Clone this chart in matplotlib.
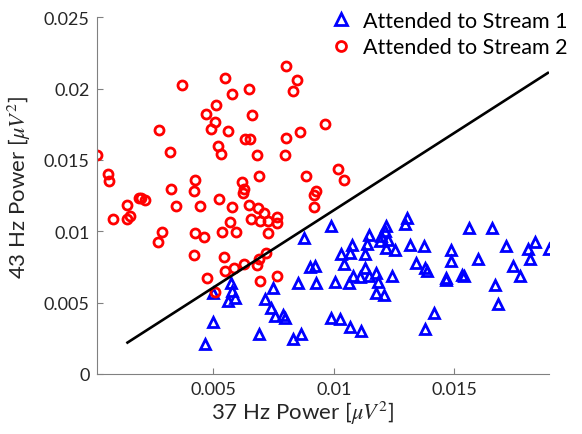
import matplotlib
matplotlib.use("Agg")
import matplotlib.pyplot as plt
from matplotlib.ticker import FuncFormatter

plt.rcParams['font.family'] = ['Lato', 'DejaVu Sans']
plt.rcParams['mathtext.fontset'] = 'stix'

# Attended to Stream 1 (blue triangles)
s1_x = [0.00988, 0.01304, 0.01294, 0.01218, 0.01211, 0.01198, 0.01191, 0.01225, 0.01218, 0.01253,
        0.01146, 0.01139, 0.01128, 0.01077, 0.01066, 0.01029, 0.01041, 0.01315, 0.01373, 0.01340,
        0.01377, 0.01387, 0.01128, 0.01080, 0.01108, 0.01146, 0.01174, 0.01184, 0.01004, 0.01063,
        0.01242, 0.01174, 0.01207, 0.00990, 0.01028, 0.01068, 0.01112, 0.01416, 0.01377, 0.01563,
        0.01657, 0.01485, 0.01485, 0.01598, 0.01715, 0.01833, 0.01805, 0.01892, 0.01815, 0.01743,
        0.01771, 0.01464, 0.01466, 0.01530, 0.01539, 0.01669, 0.01681, 0.00876, 0.00901, 0.00921,
        0.00853, 0.00925, 0.00749, 0.00576, 0.00580, 0.00590, 0.00562, 0.00498, 0.00714, 0.00742,
        0.00756, 0.00788, 0.00797, 0.00498, 0.00691, 0.00831, 0.00866, 0.00466]
s1_y = [0.01040, 0.01092, 0.01054, 0.01034, 0.00999, 0.00964, 0.00929, 0.00940, 0.00883, 0.00871,
        0.00975, 0.00910, 0.00841, 0.00907, 0.00848, 0.00843, 0.00773, 0.00907, 0.00894, 0.00778,
        0.00743, 0.00724, 0.00743, 0.00689, 0.00680, 0.00685, 0.00708, 0.00643, 0.00642, 0.00635,
        0.00685, 0.00569, 0.00551, 0.00394, 0.00382, 0.00331, 0.00301, 0.00429, 0.00313, 0.01022,
        0.01022, 0.00869, 0.00790, 0.00806, 0.00900, 0.00924, 0.00876, 0.00876, 0.00806, 0.00760,
        0.00687, 0.00673, 0.00656, 0.00696, 0.00687, 0.00621, 0.00487, 0.00952, 0.00750, 0.00754,
        0.00638, 0.00638, 0.00604, 0.00638, 0.00580, 0.00534, 0.00509, 0.00569, 0.00522, 0.00464,
        0.00406, 0.00415, 0.00394, 0.00366, 0.00283, 0.00244, 0.00283, 0.00213]

# Attended to Stream 2 (red circles)
s2_x = [0.00017, 0.00065, 0.00067, 0.00083, 0.00141, 0.00141, 0.00154, 0.00193, 0.00203, 0.00218,
        0.00274, 0.00287, 0.00272, 0.00321, 0.00325, 0.00348, 0.00372, 0.00424, 0.00420, 0.00424,
        0.00445, 0.00464, 0.00470, 0.00514, 0.00506, 0.00492, 0.00521, 0.00531, 0.00524, 0.00536,
        0.00548, 0.00562, 0.00579, 0.00577, 0.00569, 0.00593, 0.00648, 0.00660, 0.00634, 0.00653,
        0.00680, 0.00618, 0.00628, 0.00623, 0.00689, 0.00647, 0.00657, 0.00688, 0.00709, 0.00695,
        0.00728, 0.00728, 0.00763, 0.00765, 0.00804, 0.00848, 0.00833, 0.00801, 0.00800, 0.00862,
        0.00887, 0.00925, 0.00920, 0.00917, 0.00963, 0.01019, 0.01041, 0.00420, 0.00544, 0.00721,
        0.00689, 0.00684, 0.00628, 0.00587, 0.00550, 0.00476, 0.00695, 0.00763, 0.00506]
s2_y = [0.01538, 0.01401, 0.01352, 0.01085, 0.01181, 0.01087, 0.01108, 0.01231, 0.01231, 0.01217,
        0.01713, 0.00992, 0.00922, 0.01554, 0.01299, 0.01174, 0.02025, 0.01357, 0.01280, 0.00985,
        0.01174, 0.00961, 0.01824, 0.01882, 0.01769, 0.01715, 0.01599, 0.01541, 0.01224, 0.00992,
        0.02076, 0.01704, 0.01962, 0.01171, 0.01062, 0.00992, 0.01999, 0.01815, 0.01650, 0.01650,
        0.01538, 0.01343, 0.01294, 0.01266, 0.01387, 0.01185, 0.01083, 0.01162, 0.01127, 0.01073,
        0.01073, 0.00985, 0.01099, 0.01055, 0.02161, 0.02060, 0.01980, 0.01652, 0.01538, 0.01699,
        0.01387, 0.01285, 0.01254, 0.01169, 0.01755, 0.01434, 0.01359, 0.00836, 0.00822, 0.00851,
        0.00806, 0.00762, 0.00771, 0.00743, 0.00724, 0.00670, 0.00654, 0.00685, 0.00571]

# separating line
line_x = [0.00145, 0.01888]
line_y = [0.0022, 0.0211]

fig = plt.figure(figsize=(5.82, 4.35), dpi=100)
ax = fig.add_axes([0.166, 0.138, 0.777, 0.82])

ax.plot(s1_x, s1_y, '^', color='#0000ff', mfc='none', mew=2.0, markersize=7.5,
        linestyle='none', label='Attended to Stream 1')
ax.plot(s2_x, s2_y, 'o', color='#ff0000', mfc='none', mew=2.0, markersize=6.5,
        linestyle='none', label='Attended to Stream 2')
ax.plot(line_x, line_y, '-', color='k', linewidth=1.9)

ax.set_xlim(min(s2_x), max(s1_x))
ax.set_ylim(0, 0.025)
ax.set_xticks([0.005, 0.01, 0.015])
ax.set_yticks([0, 0.005, 0.01, 0.015, 0.02, 0.025])
fmt = FuncFormatter(lambda v, p: '%g' % round(v, 4))
ax.xaxis.set_major_formatter(fmt)
ax.yaxis.set_major_formatter(fmt)

for side in ('top', 'right'):
    ax.spines[side].set_visible(False)
for side in ('left', 'bottom'):
    ax.spines[side].set_color('#808080')
    ax.spines[side].set_linewidth(0.8)
ax.tick_params(direction='in', length=4, color='#808080', labelsize=13,
               labelcolor='#262626', pad=5)

ax.set_xlabel(r'37 Hz Power [$\mu V^2$]', fontsize=16, color='#262626')
ax.set_ylabel(r'43 Hz Power [$\mu V^2$]', fontsize=16, color='#262626')
ax.xaxis.set_label_coords(0.456, -0.07)
ax.yaxis.set_label_coords(-0.14, 0.527)

leg = fig.legend(loc='upper left', bbox_to_anchor=(0.533, 1.017), frameon=False,
                 fontsize=15.5, handletextpad=0.5, labelspacing=0.3,
                 handlelength=1.05, markerscale=1.1)

fig.savefig('out.png', dpi=100)
plt.close(fig)
